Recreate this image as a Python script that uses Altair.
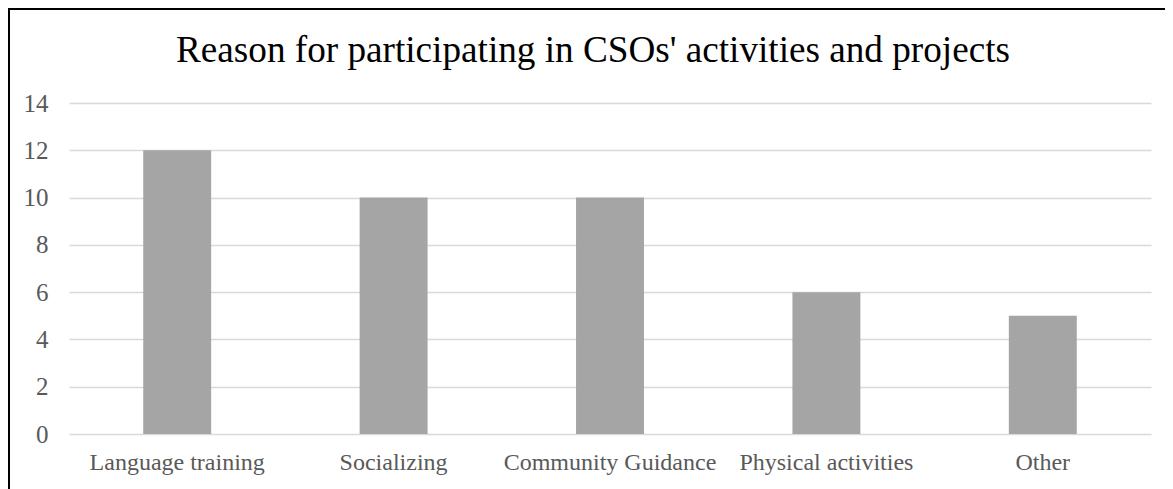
import altair as alt
import pandas as pd

categories = ["Language training", "Socializing", "Community Guidance", "Physical activities", "Other"]
values = [12, 10, 10, 6, 5]
y_ticks = [0, 2, 4, 6, 8, 10, 12, 14]
title_text = "Reason for participating in CSOs' activities and projects"

df = pd.DataFrame({"reason": categories, "count": values})

W, H = 1082, 331

bars = alt.Chart(df).mark_bar(color="#a5a5a5").encode(
    x=alt.X("reason:N", sort=categories, title=None,
            scale=alt.Scale(paddingInner=0.686, paddingOuter=0.343),
            axis=alt.Axis(labelAngle=0, labelFont="Liberation Serif", labelFontSize=24,
                          labelColor="#595959", domain=False, ticks=False, labelPadding=16,
                          labelLimit=0)),
    y=alt.Y("count:Q", title=None, scale=alt.Scale(domain=[0, 14], nice=False),
            axis=alt.Axis(values=y_ticks, labelFont="Liberation Serif", labelFontSize=25,
                          labelColor="#595959", domain=False, ticks=False, labelPadding=21,
                          gridColor="#d9d9d9", gridWidth=1.5)),
)

title = alt.Chart(pd.DataFrame({"t": [title_text]})).mark_text(
    font="Liberation Serif", fontSize=37.2, color="black", align="center", baseline="alphabetic"
).encode(text="t:N", x=alt.value(524), y=alt.value(-41))

top_border = alt.Chart(df).mark_rule(color="black", strokeWidth=2).encode(
    x=alt.value(-61), x2=alt.value(1200), y=alt.value(-94)
)
left_border = alt.Chart(df).mark_rule(color="black", strokeWidth=2).encode(
    x=alt.value(-60), y=alt.value(-95), y2=alt.value(500)
)

chart = alt.layer(bars, title, top_border, left_border).properties(
    width=W, height=H,
    padding={"left": 61, "top": 95, "right": 14, "bottom": 55},
    autosize=alt.AutoSizeParams(type="none"),
).configure_view(stroke=None)

chart.save("out.html", embed_options={"renderer": "svg", "actions": False})
